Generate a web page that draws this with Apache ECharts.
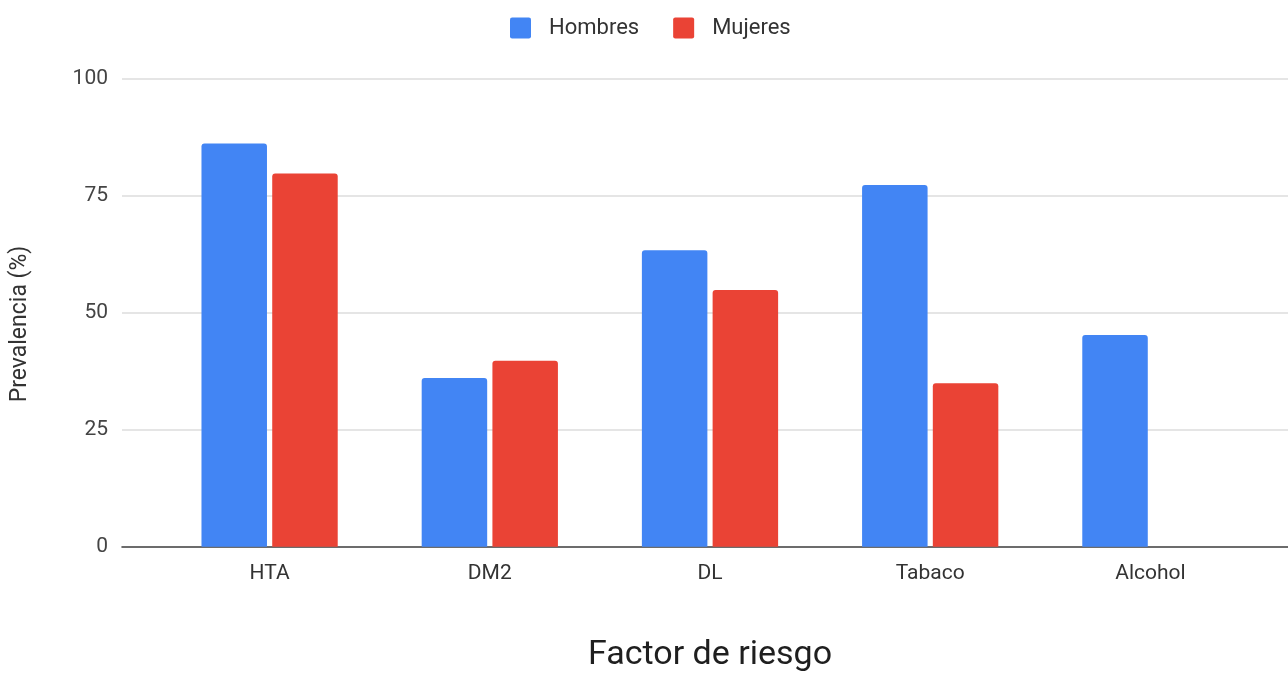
<!DOCTYPE html>
<html>
<head>
<meta charset="utf-8">
<script src="https://cdn.jsdelivr.net/npm/echarts@6/dist/echarts.min.js"></script>
<style>
  html, body { margin: 0; padding: 0; background: #fff; }
  #chart { width: 1288px; height: 675px; }
</style>
</head>
<body>
<div id="chart"></div>
<script>
// Prevalencia de factores de riesgo por sexo
const categories = ['HTA', 'DM2', 'DL', 'Tabaco', 'Alcohol'];
const hombres = [86.1, 36.0, 63.3, 77.2, 45.2];
const mujeres = [79.7, 39.7, 54.8, 34.9, 0];
const yTicks = { min: 0, max: 100, interval: 25 };

const FONT = 'Roboto, "Liberation Sans", Arial, sans-serif';
// square legend swatch with slightly rounded corners
const SWATCH = 'path://M2,0 H18 Q20,0 20,2 V18 Q20,20 18,20 H2 Q0,20 0,18 V2 Q0,0 2,0 Z';
const chart = echarts.init(document.getElementById('chart'), null, { renderer: 'canvas' });

chart.setOption({
  backgroundColor: '#ffffff',
  animation: false,
  textStyle: { fontFamily: FONT },
  legend: {
    top: 12,
    left: 505,
    icon: SWATCH,
    itemWidth: 21,
    itemHeight: 21,
    itemGap: 34,
    textStyle: { fontSize: 22, color: '#333', fontFamily: FONT, padding: [0, 0, 0, 13] },
    data: ['Hombres', 'Mujeres']
  },
  grid: [
    // frame holding the horizontal gridlines and the baseline
    { left: 122, right: -6, top: 78.3, bottom: 128.3, outerBoundsMode: 'none' },
    // band area holding the bars
    { left: 159.5, right: 27.5, top: 78.3, bottom: 128.3, outerBoundsMode: 'none' }
  ],
  xAxis: [
    {
      gridIndex: 0, type: 'value', min: 0, max: 1,
      axisLine: { show: true, onZero: false, lineStyle: { color: '#444', width: 1.6 } },
      axisTick: { show: false }, axisLabel: { show: false }, splitLine: { show: false }
    },
    {
      gridIndex: 1, type: 'category', data: categories,
      axisLine: { show: false }, axisTick: { show: false },
      axisLabel: { fontSize: 21, color: '#333', margin: 17, fontFamily: FONT },
      name: 'Factor de riesgo', nameLocation: 'middle', nameGap: 92,
      nameTextStyle: { fontSize: 34, color: '#1f1f1f', fontFamily: FONT }
    }
  ],
  yAxis: [
    {
      gridIndex: 0, type: 'value', min: yTicks.min, max: yTicks.max, interval: yTicks.interval,
      axisLine: { show: false }, axisTick: { show: false },
      axisLabel: { fontSize: 21, color: '#444', margin: 14, fontFamily: FONT },
      splitLine: { show: true, lineStyle: { color: '#dcdcdc', width: 1.5 } }
    },
    {
      gridIndex: 1, type: 'value', min: yTicks.min, max: yTicks.max, interval: yTicks.interval,
      show: false, splitLine: { show: false }
    }
  ],
  graphic: [
    {
      type: 'text', x: 20, y: 324, rotation: Math.PI / 2,
      style: {
        text: 'Prevalencia (%)', fontSize: 23, fill: '#333', fontFamily: FONT,
        textAlign: 'center', textVerticalAlign: 'middle'
      }
    }
  ],
  series: [
    {
      name: 'Hombres', type: 'bar', xAxisIndex: 1, yAxisIndex: 1,
      data: hombres, barWidth: 65.5, barGap: '8%',
      itemStyle: { color: '#4285F4', borderRadius: [3, 3, 0, 0] }
    },
    {
      name: 'Mujeres', type: 'bar', xAxisIndex: 1, yAxisIndex: 1,
      data: mujeres, barWidth: 65.5, barGap: '8%',
      itemStyle: { color: '#EA4335', borderRadius: [3, 3, 0, 0] }
    }
  ]
});
</script>
</body>
</html>
